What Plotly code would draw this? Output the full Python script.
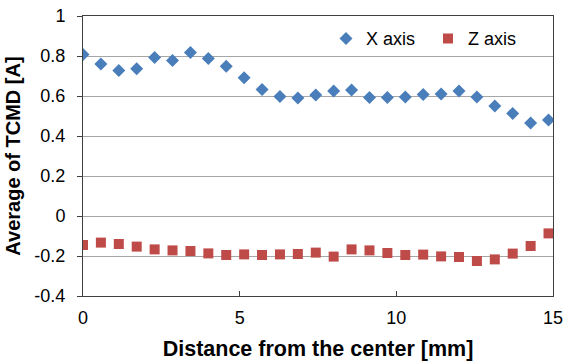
import plotly.graph_objects as go

distance_mm = [0.0, 0.571, 1.143, 1.714, 2.286, 2.857, 3.429, 4.0, 4.571, 5.143,
               5.714, 6.286, 6.857, 7.429, 8.0, 8.571, 9.143, 9.714, 10.286, 10.857,
               11.429, 12.0, 12.571, 13.143, 13.714, 14.286, 14.857]
x_axis_tcmd = [0.808, 0.760, 0.728, 0.736, 0.793, 0.778, 0.817, 0.788, 0.749, 0.691,
               0.633, 0.597, 0.590, 0.605, 0.625, 0.630, 0.593, 0.593, 0.595, 0.607,
               0.610, 0.625, 0.595, 0.550, 0.513, 0.465, 0.480]
z_axis_tcmd = [-0.145, -0.133, -0.140, -0.153, -0.167, -0.172, -0.175, -0.187, -0.195, -0.192,
               -0.195, -0.192, -0.190, -0.183, -0.203, -0.167, -0.172, -0.185, -0.195, -0.193,
               -0.202, -0.205, -0.225, -0.217, -0.188, -0.150, -0.087]

y_ticks = [1, 0.8, 0.6, 0.4, 0.2, 0, -0.2, -0.4]
y_tick_labels = ["1", "0.8", "0.6", "0.4", "0.2", "0", "-0.2", "-0.4"]
x_ticks = [0, 5, 10, 15]

fig = go.Figure()
fig.add_trace(go.Scatter(x=distance_mm, y=x_axis_tcmd, mode="markers", name="X axis",
                         marker=dict(symbol="diamond", size=10, color="#4A7EBB")))
fig.add_trace(go.Scatter(x=distance_mm, y=z_axis_tcmd, mode="markers", name="Z axis",
                         marker=dict(symbol="square", size=10, color="#BE4B48")))

font = "Liberation Sans, Arial, sans-serif"
fig.update_layout(
    width=565, height=361,
    margin=dict(l=83, r=12, t=16, b=65),
    paper_bgcolor="white", plot_bgcolor="white",
    font=dict(family=font, size=18, color="black"),
    showlegend=True,
    legend=dict(orientation="h", x=0.517, y=0.985, xanchor="left", yanchor="top",
                bgcolor="rgba(0,0,0,0)", font=dict(size=18), itemwidth=30,
                entrywidth=57, tracegroupgap=0),
    xaxis=dict(range=[0, 15], tickvals=x_ticks, showgrid=False, zeroline=False,
               showline=True, linecolor="#404040", linewidth=1, mirror=True,
               ticks="inside", ticklen=5, tickcolor="#404040", automargin=False,
               ticklabelstandoff=5, ticklabeloverflow="allow",
               title=dict(text="<b>Distance from the center [mm]</b>", font=dict(size=21.5), standoff=17)),
    yaxis=dict(range=[-0.4, 1], tickvals=y_ticks, ticktext=y_tick_labels,
               showgrid=True, gridcolor="#A6A6A6", gridwidth=1, zeroline=False,
               showline=True, linecolor="#404040", linewidth=1, mirror=True,
               ticks="outside", ticklen=5, tickcolor="#404040", automargin=False,
               ticklabelstandoff=8, ticklabeloverflow="allow",
               title=dict(text="<b>Average of TCMD [A]</b>", font=dict(size=20), standoff=8)),
)

fig.write_html("out.html",
               config={"displayModeBar": False},
               post_script="document.body.style.margin='0';document.body.style.overflow='hidden';")
